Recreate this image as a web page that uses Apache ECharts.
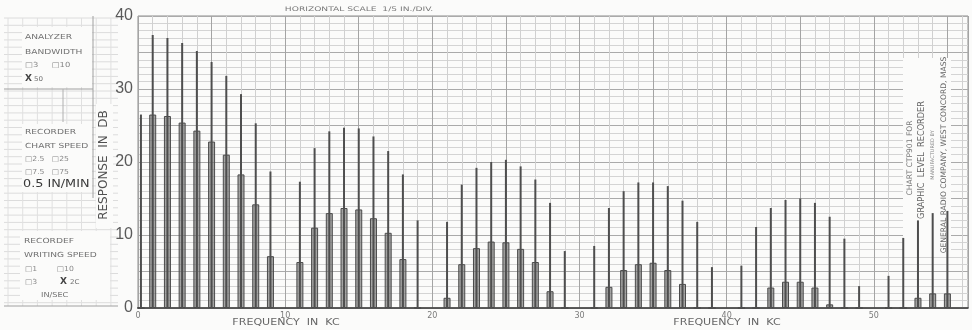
<!DOCTYPE html>
<html>
<head>
<meta charset="utf-8">
<script src="https://cdn.jsdelivr.net/npm/echarts@6/dist/echarts.min.js"></script>
<style>
html,body{margin:0;padding:0;background:#fbfbfa;}
#c{width:972px;height:330px;}
</style>
</head>
<body>
<div id="c"></div>
<script>
// ---- data (kHz, dB) ----
const freqs  = [0.2, 1,2,3,4,5,6,7,8,9, 11,12,13,14,15,16,17,18,19, 21,22,23,24,25,26,27,28,29, 31,32,33,34,35,36,37,38,39, 41,42,43,44,45,46,47,48,49, 51,52,53,54,55];
const peakDb = [26.5, 37.4,37.0,36.3,35.2,33.7,31.8,29.3,25.3,18.7, 17.3,21.9,24.2,24.7,24.6,23.5,21.5,18.3,12.0, 11.8,16.9,19.2,20.0,20.3,19.4,17.6,14.4,7.8, 8.5,13.7,16.0,17.2,17.2,16.7,14.7,11.8,5.6, 5.8,11.1,13.7,14.8,15.0,14.4,12.5,9.5,3.0, 4.4,9.6,12.0,13.0,13.3];
const bandDb = [0, 26.5,26.3,25.4,24.3,22.8,21.0,18.3,14.2,7.1, 6.3,11.0,13.0,13.7,13.5,12.3,10.3,6.7,0, 1.4,6.0,8.2,9.1,9.0,8.1,6.3,2.3,0, 0,2.9,5.2,6.0,6.2,5.2,3.3,0,0, 0,0,2.8,3.6,3.6,2.8,0.5,0,0, 0,0,1.4,2.0,2.0];
const yTickLabels = [0, 10, 20, 30, 40];
const xTickLabels = [0, 10, 20, 30, 40, 50];

const chart = echarts.init(document.getElementById('c'), null, {renderer:'canvas'});

const T = (x, y, s, size, col, extra, sx) => ({type:'text', z:5, x:x, y:y, scaleX:sx || 1.3,
  style:Object.assign({text:s, fontSize:size, fill:col || '#707070', fontFamily:'DejaVu Sans', textVerticalAlign:'middle'}, extra || {})});

const gfx = [];
// left panel paper grid
for (let y = 18; y <= 306; y += 7.3) {
  gfx.push({type:'line', z:0, shape:{x1:4, y1:y, x2:118, y2:y}, style:{stroke:'#dcdcdc', lineWidth:1}});
}
for (let x = 8; x <= 118; x += 14.7) {
  gfx.push({type:'line', z:0, shape:{x1:x, y1:18, x2:x, y2:306}, style:{stroke:'#e0e0e0', lineWidth:1}});
}
gfx.push({type:'line', z:1, shape:{x1:93, y1:16, x2:93, y2:198}, style:{stroke:'#a0a0a0', lineWidth:1}});
gfx.push({type:'line', z:1, shape:{x1:4, y1:306, x2:118, y2:306}, style:{stroke:'#a0a0a0', lineWidth:1}});
gfx.push({type:'line', z:1, shape:{x1:4, y1:89, x2:93, y2:89}, style:{stroke:'#a0a0a0', lineWidth:1}});
gfx.push({type:'line', z:1, shape:{x1:63, y1:89, x2:63, y2:122}, style:{stroke:'#b0b0b0', lineWidth:1}});
// white text boxes
gfx.push({type:'rect', z:2, shape:{x:22, y:27, width:70, height:60}, style:{fill:'#fbfbfa'}});
gfx.push({type:'rect', z:2, shape:{x:22, y:124, width:70, height:68}, style:{fill:'#fbfbfa'}});
gfx.push({type:'rect', z:2, shape:{x:20, y:231, width:90, height:69}, style:{fill:'#fbfbfa'}});
gfx.push({type:'rect', z:2, shape:{x:96, y:104, width:17, height:124}, style:{fill:'#fbfbfa'}});
// y axis title
gfx.push({type:'text', z:6, x:104, y:165, rotation:Math.PI/2,
  style:{text:'RESPONSE  IN  DB', fontSize:12, fill:'#505050', fontFamily:'DejaVu Sans', textAlign:'center', textVerticalAlign:'middle'}});
// panel texts
gfx.push(T(25, 37, 'ANALYZER', 7));
gfx.push(T(25, 52, 'BANDWIDTH', 7));
gfx.push(T(25, 65, '□3     □10', 7, '#858585', null, 1.2));
gfx.push(T(25, 79, 'X', 9, '#444', {fontWeight:'bold'}, 1));
gfx.push(T(34, 79, '50', 6.5, null, null, 1.1));
gfx.push(T(25, 132, 'RECORDER', 7));
gfx.push(T(25, 146, 'CHART SPEED', 7));
gfx.push(T(25, 159, '□2.5   □25', 7, '#8a8a8a', null, 1.1));
gfx.push(T(25, 172, '□7.5   □75', 7, '#8a8a8a', null, 1.1));
gfx.push(T(23, 184, '0.5 IN/MIN', 10.5, '#3a3a3a', null, 1.22));
gfx.push(T(24, 241, 'RECORDEF', 7));
gfx.push(T(24, 255, 'WRITING SPEED', 7));
gfx.push(T(25, 269, '□1        □10', 7, '#8a8a8a', null, 1.1));
gfx.push(T(25, 282, '□3', 7, '#8a8a8a', null, 1.1));
gfx.push(T(60, 282, 'X', 9, '#444', {fontWeight:'bold'}, 1));
gfx.push(T(70, 282, '2C', 6.5, null, null, 1.1));
gfx.push(T(41, 295, 'IN/SEC', 6.8, null, null, 1.2));
// top caption
gfx.push(T(359, 9, 'HORIZONTAL SCALE  1/5 IN./DIV.', 6.3, '#777', {textAlign:'center'}, 1.45));
// frequency labels
gfx.push(T(286, 323, 'FREQUENCY  IN  KC', 8.5, '#666', {textAlign:'center'}, 1.3));
gfx.push(T(727, 323, 'FREQUENCY  IN  KC', 8.5, '#666', {textAlign:'center'}, 1.3));
// right side imprint
gfx.push({type:'rect', z:1, shape:{x:903, y:58, width:48, height:192}, style:{fill:'#fbfbfa'}});
const V = (x, y, s, size, col) => ({type:'text', z:5, x:x, y:y, rotation:Math.PI/2,
  style:{text:s, fontSize:size, fill:col, fontFamily:'DejaVu Sans', textAlign:'center', textVerticalAlign:'middle'}});
gfx.push(V(910, 158, 'CHART CTP901 FOR', 7.6, '#777'));
gfx.push(V(922, 160, 'GRAPHIC  LEVEL  RECORDER', 8.2, '#666'));
gfx.push(V(933, 155, 'MANUFACTURED BY', 5, '#888'));
gfx.push(V(944, 155, 'GENERAL RADIO COMPANY, WEST CONCORD, MASS', 7.6, '#666'));

const xBase = {
  type:'value', min:0, max:56.4, interval:5
};
const option = {
  backgroundColor:'#fbfbfa',
  animation:false,
  grid:{left:138, right:4, top:16, bottom:22, show:true, borderColor:'#8c8c8c', borderWidth:1},
  xAxis:[
    Object.assign({}, xBase, {
      axisLine:{show:true, lineStyle:{color:'#3a3a3a', width:1.6}},
      axisTick:{show:false},
      minorTick:{show:true, splitNumber:5, length:0},
      axisLabel:{
        show:true, fontSize:8, color:'#7a7a7a', margin:4, fontFamily:'DejaVu Sans',
        showMaxLabel:false,
        formatter:v => xTickLabels.indexOf(v) >= 0 ? String(v) : ''
      },
      splitLine:{show:true, lineStyle:{color:'#a4a4a4', width:1}},
      minorSplitLine:{show:true, lineStyle:{color:'#d0d0d0', width:1}}
    }),
    Object.assign({}, xBase, {
      show:false, position:'bottom',
      splitLine:{show:false}
    })
  ],
  yAxis:{
    type:'value', min:0, max:40, interval:5,
    axisLine:{show:false},
    axisTick:{show:false},
    minorTick:{show:true, splitNumber:5, length:0},
    axisLabel:{
      fontSize:16, color:'#5a5a5a', margin:5, fontFamily:'Liberation Sans',
      formatter:v => yTickLabels.indexOf(v) >= 0 ? String(v) : ''
    },
    splitLine:{show:true, lineStyle:{color:'#aaaaaa', width:1}},
    minorSplitLine:{show:true, lineStyle:{color:'#d4d4d4', width:1}}
  },
  graphic:{elements:gfx},
  series:[
    {
      name:'band', type:'bar', xAxisIndex:0, z:3, barWidth:7,
      data:freqs.map((f,i) => [f, bandDb[i]]),
      itemStyle:{color:'rgba(110,110,110,0.62)', borderColor:'#4a4a4a', borderWidth:1}
    },
    {
      name:'peak', type:'bar', xAxisIndex:1, z:4, barWidth:2,
      data:freqs.map((f,i) => [f, peakDb[i]]),
      itemStyle:{color:'#4e4e4e'}
    }
  ]
};
chart.setOption(option);
</script>
</body>
</html>
